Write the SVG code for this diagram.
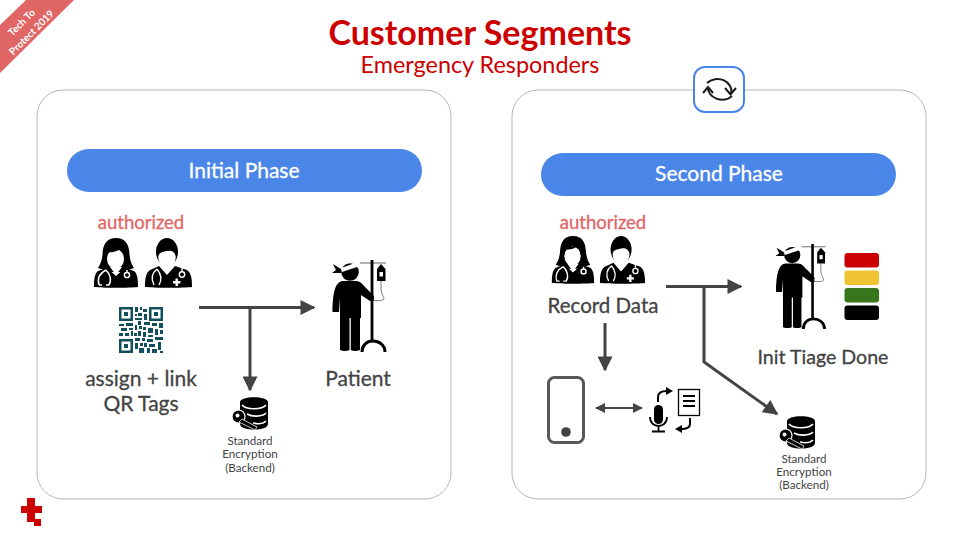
<svg xmlns="http://www.w3.org/2000/svg" width="960" height="540" viewBox="0 0 960 540">
<style>
text{font-family:"Lato","Open Sans","Liberation Sans",sans-serif;text-anchor:middle}
.panel{fill:#fff;stroke:#b7b7b7;stroke-width:1}
.pill{fill:#4a86e8}
.pilltx{fill:#fff;stroke:#fff;stroke-width:.3px;font-size:21px}
.auth{fill:#e06666;stroke:#e06666;stroke-width:.3px;font-size:18.5px}
.lab{fill:#434343;stroke:#434343;stroke-width:.3px;font-size:21px}
.small{fill:#434343;font-size:11.600px}
.rib{fill:#fff;font-size:10px;font-weight:700}
.conn{fill:none;stroke:#434343;stroke-width:3}
.thin{fill:none;stroke:#434343;stroke-width:2}
</style>
<defs>
<marker id="ah" viewBox="0 0 10 10" refX="9" refY="5" markerWidth="6" markerHeight="5" markerUnits="strokeWidth" orient="auto"><path d="M0 0L10 5L0 10z" fill="#434343"/></marker>
<marker id="ah2" viewBox="0 0 10 10" refX="9" refY="5" markerWidth="7" markerHeight="5" markerUnits="strokeWidth" orient="auto-start-reverse"><path d="M0 0L10 5L0 10z" fill="#434343"/></marker>
<symbol id="woman" viewBox="0 0 44 50" overflow="visible">
<path d="M22 0C12 0 9 7 8.500 16C8 23 6 27 4 30L15 34H29L40 30C38 27 36 23 35.500 16C35 7 32 0 22 0Z" fill="#000"/>
<path d="M13 30L4 33C0 36 0 44 0 49C8 50 36 50 44 49C44 44 44 36 40 33L31 30L22 38Z" fill="#000"/>
<ellipse cx="21.500" cy="21" rx="8.500" ry="10" fill="#fff"/>
<path d="M16 29L22 37L28 29Z" fill="#fff"/>
<path d="M13 14C18 15 25 13 27 10C28 13 30 14 31 17V11H13Z" fill="#000"/>
<path d="M12 32C6 35 3 40 5 47M12 32C16 36 18 42 15 47M5 47H8M15 47H12M33 32V35" fill="none" stroke="#fff" stroke-width="1.500"/>
<circle cx="33" cy="37" r="2.600" fill="none" stroke="#fff" stroke-width="1.500"/>
</symbol>
<symbol id="man" viewBox="0 0 47 50" overflow="visible">
<ellipse cx="22" cy="14" rx="11" ry="14" fill="#000"/>
<path d="M14 28L5 32C0 35 0 44 0 49C8 50 39 50 47 49C47 44 47 35 42 32L30 28L22 37Z" fill="#000"/>
<ellipse cx="22" cy="19" rx="8.800" ry="10.500" fill="#fff"/>
<path d="M15 27L22 36L29 27Z" fill="#fff"/>
<path d="M13 19C12.500 11 16 8 22 8C28 8 31.500 11 31 19C30 14 27 12 22 13C18 14 14 14 13 19Z" fill="#000"/>
<path d="M12 31C7 35 6 41 9 47M12 31C16 36 17 42 14 47M37 30V34" fill="none" stroke="#fff" stroke-width="1.400"/>
<circle cx="37" cy="36.500" r="2.700" fill="none" stroke="#fff" stroke-width="1.400"/>
<path d="M28 43h2.500v-2.500h2.400v2.500h2.500v2.400h-2.500v2.500h-2.400v-2.500h-2.500z" fill="#fff"/>
</symbol>
<symbol id="patient" viewBox="0 0 55 92" overflow="visible">
<circle cx="18" cy="12" r="8.800" fill="#000"/>
<path d="M9 8L26 2L28 6L10 12Z" fill="#fff"/>
<path d="M9 9L1 4L4 10L0 13L9 13Z" fill="#000"/>
<path d="M11 21H24C29 21 31 25 34 28L42 36V41H38L29 35V58H8V38L7 52H0.500C0.500 38 2 21 11 21Z" fill="#000"/>
<path d="M8 55H17.500V90Q13 92 8 90ZM18.800 55H28V90Q23 92 18.800 90Z" fill="#000"/>
<path d="M40 0V82" stroke="#000" stroke-width="2.800"/>
<path d="M28 3H54" stroke="#000" stroke-width="1" opacity=".6"/>
<path d="M30 92C30 85 35 81 41 81C47 81 53 85 53 92" fill="none" stroke="#000" stroke-width="3"/>
<path d="M49 4L45 9V21H53.500V9Z" fill="#000"/>
<rect x="47.500" y="12" width="3.500" height="4.500" fill="#fff"/>
<path d="M49 21V28C49 36 54 38 51 40C48 41 44 41 41 40" fill="none" stroke="#666" stroke-width=".9"/>
</symbol>
<symbol id="db" viewBox="0 0 35 33" overflow="visible">
<path d="M7 5C7 -1.500 35 -1.500 35 5V27C35 34.500 7 34.500 7 27Z" fill="#000"/>
<path d="M9 8C13 13 29 13 33 8M14 17C19 20 29 20 33 16M20 26C24 27 30 27 33 24" fill="none" stroke="#fff" stroke-width="1.700"/>
<circle cx="5.500" cy="19.500" r="6.500" fill="#000" stroke="#fff" stroke-width="1.200"/>
<circle cx="4.500" cy="18.500" r="2" fill="#fff"/>
<path d="M9 22L24 30L22 33L6 25Z" fill="#000" stroke="#fff" stroke-width=".8"/>
</symbol>
</defs>

<g id="ribbon">
<polygon points="26,0 74,0 0,73 0,25" fill="#e06666"/>
<text class="rib" transform="translate(24,25) rotate(-45)">Tech To</text>
<text class="rib" transform="translate(34,35) rotate(-45)">Protect 2019</text>
</g>
<g id="title">
<text x="480" y="45" style="fill:#cc0000;font-size:34px;font-weight:700">Customer Segments</text>
<text x="480" y="73" style="fill:#cc0000;font-size:23.400px">Emergency Responders</text>
</g>
<rect id="panel-left" class="panel" x="37" y="90" width="414" height="409" rx="26"/>
<rect id="panel-right" class="panel" x="512" y="90" width="414" height="409" rx="26"/>

<g id="refresh">
<rect x="694" y="67" width="50" height="45" rx="11" fill="#fff" stroke="#4a86e8" stroke-width="2"/>
<path d="M707 83A14 12 0 0 1 731 94M732 96A14 12 0 0 1 708 87" fill="none" stroke="#1a1a1a" stroke-width="2"/>
<path d="M703 93L708 87L713 93M725 88L730.500 94.500L736 88" fill="none" stroke="#1a1a1a" stroke-width="2"/>
</g>
<g id="phase1"><rect class="pill" x="67" y="149" width="355" height="43" rx="21.500"/><text class="pilltx" x="244" y="178">Initial Phase</text></g>
<g id="phase2"><rect class="pill" x="541" y="153" width="355" height="43" rx="21.500"/><text class="pilltx" x="719" y="181">Second Phase</text></g>

<g id="connectors">
<path class="conn" d="M199 307.500H314" marker-end="url(#ah)"/>
<path class="conn" d="M250 308V390" marker-end="url(#ah)"/>
<path class="conn" d="M666 286.500H741" marker-end="url(#ah)"/>
<path class="conn" d="M605 323V370" marker-end="url(#ah)"/>
<path class="conn" d="M704 287V362L777 414" marker-end="url(#ah)"/>
<path class="thin" d="M596 408H642" marker-start="url(#ah2)" marker-end="url(#ah2)"/>
</g>

<g id="staff-left">
<text class="auth" x="141" y="229">authorized</text>
<use href="#woman" x="94" y="238" width="44" height="50"/>
<use href="#man" x="145" y="238" width="47" height="50"/>
</g>
<g id="qr">
<path fill="#134f5c" fill-rule="evenodd" d="M119 307h14v14h-14zM121.500 309.500v9h9v-9zM124 312h4v4h-4zM149 307h14v14h-14zM151.500 309.500v9h9v-9zM154 312h4v4h-4zM119 339h14v14h-14zM121.500 341.500v9h9v-9zM124 344h4v4h-4zM135 307h3v5h-3zM140 307h2v3h-2zM143 309h4v3h-4zM135 314h2v2h-2zM138 313h4v3h-4zM135 318h7v2h-7zM144 314h3v6h-3zM138 321h3v4h-3zM119 324h5v2h-5zM126 323h7v3h-7zM135 325h2v5h-2zM139 326h3v3h-3zM144 322h6v3h-6zM152 323h5v3h-5zM159 323h4v5h-4zM121 328h6v3h-6zM129 328h4v2h-4zM131 331h2v5h-2zM138 331h3v5h-3zM143 327h3v3h-3zM148 328h5v5h-5zM155 329h3v6h-3zM119 333h4v3h-4zM125 333h4v3h-4zM134 333h3v3h-3zM143 332h3v5h-3zM160 330h3v4h-3zM148 335h5v2h-5zM135 338h5v3h-5zM142 338h3v3h-3zM147 339h6v3h-6zM155 337h8v3h-8zM144 343h3v4h-3zM135 343h3v6h-3zM140 343h3v3h-3zM149 344h6v3h-6zM158 342h3v8h-3zM139 348h5v5h-5zM147 348h3v5h-3zM152 349h5v4h-5zM160 351h3v2h-3z"/>
</g>
<text id="assign" class="lab" x="141" y="386">assign + link<tspan x="141" y="411">QR Tags</tspan></text>
<g id="patient-left">
<use href="#patient" x="332" y="260" width="55" height="92"/>
<text class="lab" x="358" y="386">Patient</text>
</g>
<g id="db-left">
<use href="#db" x="233" y="397" width="35" height="33"/>
<text class="small" x="250" y="445">Standard</text><text class="small" x="250" y="458">Encryption</text><text class="small" x="250" y="472">(Backend)</text>
</g>

<g id="staff-right">
<text class="auth" x="603" y="229">authorized</text>
<use href="#woman" x="551" y="236" width="44" height="48"/>
<use href="#man" x="600" y="236" width="45" height="48"/>
<text class="lab" x="603" y="313" style="font-size:20.500px">Record Data</text>
</g>
<g id="patient-right">
<use href="#patient" x="775" y="244" width="52" height="85"/>
<text class="lab" x="823" y="364" style="font-size:19.600px">Init Tiage Done</text>
</g>
<g id="triage">
<rect x="844.500" y="253" width="34.500" height="14.500" rx="3" fill="#cc0000"/>
<rect x="844.500" y="270.500" width="34.500" height="14.500" rx="3" fill="#f1c232"/>
<rect x="844.500" y="288" width="34.500" height="14.500" rx="3" fill="#38761d"/>
<rect x="844.500" y="305.500" width="34.500" height="14.500" rx="3" fill="#000"/>
</g>
<g id="phone">
<rect x="548.500" y="377.500" width="35" height="65" rx="6" fill="#fff" stroke="#595959" stroke-width="3"/>
<circle cx="566" cy="432" r="4.800" fill="#434343"/>
</g>
<g id="voice">
<rect x="654" y="405" width="9" height="19" rx="4.500" fill="#000"/>
<path d="M650 417C650 429 667 429 667 417M658.500 426V431M652 431.500H665" fill="none" stroke="#000" stroke-width="1.800"/>
<rect x="678.500" y="389.500" width="21" height="26" fill="#fff" stroke="#000" stroke-width="1.300"/>
<path d="M683 396H695M683 401H695M683 406H695" stroke="#000" stroke-width="1.800"/>
<path d="M658 402V397C658 393 661 391 667 391" fill="none" stroke="#000" stroke-width="2"/>
<path d="M666 387L673 391L666 395Z" fill="#000"/>
<path d="M690 418V424C690 428 686 429 681 429" fill="none" stroke="#000" stroke-width="2"/>
<path d="M682 425L675 429L682 433Z" fill="#000"/>
</g>
<g id="db-right">
<use href="#db" x="780" y="416" width="35" height="33"/>
<text class="small" x="804" y="463">Standard</text><text class="small" x="804" y="476">Encryption</text><text class="small" x="804" y="489">(Backend)</text>
</g>
<g id="logo">
<path d="M27 498h8v8h7v7h-7v9h-8v-9h-6v-7h6z" fill="#cc0000"/>
<rect x="34" y="519" width="7" height="7" fill="#cc0000"/>
</g>
</svg>
